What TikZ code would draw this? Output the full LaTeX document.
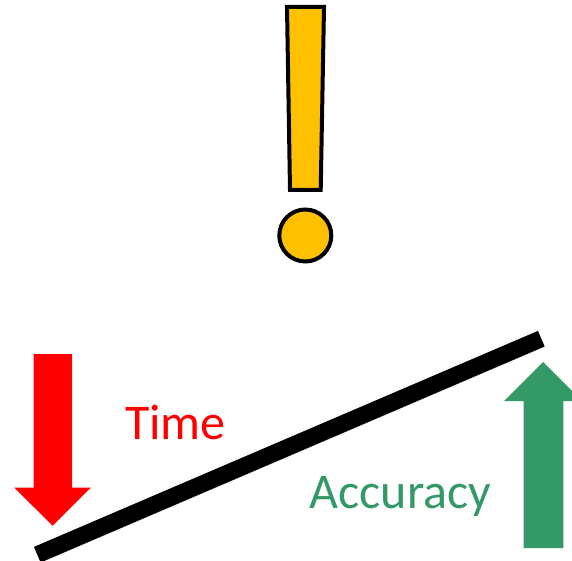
\documentclass[tikz,border=0pt]{standalone}
\usepackage{fontspec}
\setmainfont[Ligatures=NoCommon]{Carlito}
\definecolor{gold}{RGB}{255,192,0}
\definecolor{sea}{RGB}{51,153,102}
\tikzset{mark outline/.style={draw=black,line width=4pt,fill=gold,line join=miter},
arrowshape/.style={fill=#1,draw=none},
lbl/.style={inner sep=0pt,font=\fontsize{50}{56}\selectfont}}
\begin{document}
\begin{tikzpicture}[x=1pt,y=-1pt]
\useasboundingbox (0,0) rectangle (572,561);
\begin{scope}
\clip (0,0) rectangle (572,561);
\draw[mark outline] (287,7) -- (324,7) -- (320.7,190) -- (290,190) -- cycle;
\draw[mark outline] (305.3,235.5) circle (26);
\fill[arrowshape=red] (33.5,354) -- (72,354) -- (72,487.5) -- (91,487.5) -- (52.7,525.7) -- (14,487.5) -- (33.5,487.5) -- cycle;
\fill[arrowshape=sea] (523.5,548) -- (563.3,548) -- (563.3,401) -- (582,401) -- (543,362) -- (504,401) -- (523.5,401) -- cycle;
\draw[line width=17pt,black] (37.3,554.7) -- (541.3,338.7);
\end{scope}
\node[lbl,text=red,anchor=center] (time) at (175.5,422) {Time};
\node[lbl,text=sea,anchor=center] (acc) at (400.5,496) {Accuracy};
\end{tikzpicture}
\end{document}
